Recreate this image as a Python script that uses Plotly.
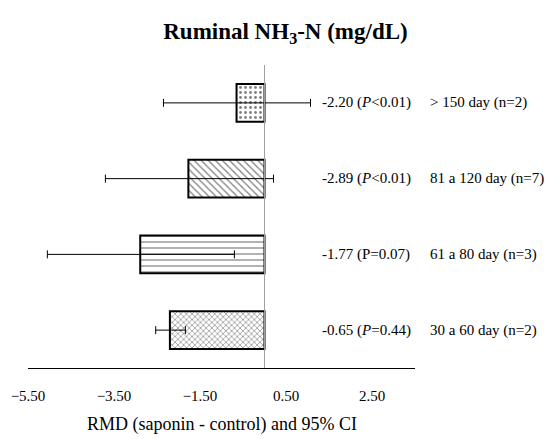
import plotly.graph_objects as go

# Data (groups in data order; bars drawn top->bottom in this order,
# right-hand labels listed bottom->top, as in the original figure)
groups = ["30 a 60 day (n=2)", "61 a 80 day (n=3)", "81 a 120 day (n=7)", "> 150 day (n=2)"]
rmd = [-0.65, -1.77, -2.89, -2.20]
ci_low = [-2.35, -3.70, -5.05, -2.53]
ci_high = [1.07, 0.21, -0.70, -1.84]
p_text = ["(<i>P</i>=0.44)", "(P=0.07)", "(<i>P</i>&lt;0.01)", "(<i>P</i>&lt;0.01)"]
patterns = [".", "\\", "-", "x"]

FONT = "Liberation Serif, Times New Roman, serif"
n = len(groups)
bar_pos = [n - 1 - i for i in range(n)]   # first group at top
label_pos = list(range(n))                # first group label at bottom

fig = go.Figure()
fig.add_trace(go.Bar(
    x=rmd, y=bar_pos, orientation="h", width=0.5,
    marker=dict(
        color="white",
        line=dict(color="black", width=2),
        pattern=dict(shape=patterns, fgcolor="black", bgcolor="white",
                     size=[5, 5, 6, 4], solidity=[0.25, 0.25, 0.2, 0.3]),
    ),
    error_x=dict(type="data", symmetric=False,
                 array=[h - v for h, v in zip(ci_high, rmd)],
                 arrayminus=[v - l for v, l in zip(rmd, ci_low)],
                 color="black", thickness=1, width=4),
    showlegend=False,
))

annotations = []
for i in range(n):
    annotations.append(dict(
        x=0.755, xref="paper", y=label_pos[i], yref="y",
        text=f"{rmd[i]:.2f} {p_text[i]}", showarrow=False,
        xanchor="left", yanchor="middle",
        font=dict(family=FONT, size=15, color="black")))
    annotations.append(dict(
        x=1.034, xref="paper", y=label_pos[i], yref="y",
        text=groups[i], showarrow=False,
        xanchor="left", yanchor="middle",
        font=dict(family=FONT, size=15, color="black")))

annotations.append(dict(
    x=0.5, xref="paper", y=-0.188, yref="paper",
    text="RMD (saponin - control) and 95% CI", showarrow=False,
    xanchor="center", yanchor="middle",
    font=dict(family=FONT, size=18, color="black")))

fig.update_layout(
    width=549, height=439,
    margin=dict(l=28, r=134, t=65, b=71),
    paper_bgcolor="white", plot_bgcolor="white",
    title=dict(text="<b>Ruminal NH<sub>3</sub>-N (mg/dL)</b>",
               x=0.52, xanchor="center", y=0.93, yanchor="middle",
               font=dict(family=FONT, size=23, color="black")),
    xaxis=dict(range=[-5.5, 3.5], tick0=-5.5, dtick=2, tickformat=".2f",
               showgrid=False, zeroline=False,
               showline=True, linecolor="black", linewidth=1.3,
               ticks="outside", ticklen=14, tickcolor="rgba(0,0,0,0)",
               tickfont=dict(family=FONT, size=15, color="black")),
    yaxis=dict(range=[-0.5, n - 0.5], visible=False),
    shapes=[dict(type="line", x0=0, x1=0, xref="x", y0=0, y1=1, yref="paper",
                 line=dict(color="#a0a0a0", width=1), layer="above")],
    annotations=annotations,
)

fig.write_html("out.html")
